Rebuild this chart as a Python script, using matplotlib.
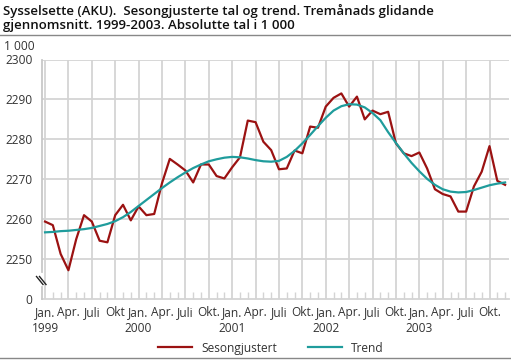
import matplotlib
matplotlib.use("Agg")
import matplotlib.pyplot as plt
from matplotlib.lines import Line2D
import numpy as np

# monthly values, Jan 1999 - Des 2003 (1 000 personar)
sesong = [2259.4, 2258.5, 2251.3, 2247.2, 2255.0, 2261.0, 2259.4, 2254.6, 2254.2, 2261.0,
          2263.6, 2259.7, 2263.2, 2261.0, 2261.3, 2269.0, 2275.1, 2273.7, 2272.2, 2269.2,
          2273.7, 2273.7, 2270.8, 2270.2, 2273.0, 2275.5, 2284.7, 2284.3, 2279.4, 2277.3,
          2272.5, 2272.7, 2277.2, 2276.5, 2283.2, 2282.9, 2288.2, 2290.4, 2291.5, 2288.2,
          2290.7, 2285.0, 2287.2, 2286.3, 2286.9, 2279.0, 2276.5, 2275.8, 2276.7, 2272.7,
          2267.5, 2266.3, 2265.7, 2261.9, 2261.9, 2268.2, 2271.9, 2278.3, 2269.6, 2268.6]
trend = [2256.7, 2256.8, 2257.0, 2257.1, 2257.3, 2257.5, 2257.8, 2258.3, 2258.8, 2259.5,
         2260.5, 2261.8, 2263.3, 2264.8, 2266.3, 2267.8, 2269.2, 2270.5, 2271.7, 2272.8,
         2273.7, 2274.5, 2275.0, 2275.4, 2275.6, 2275.5, 2275.2, 2274.8, 2274.5, 2274.4,
         2274.6, 2275.6, 2277.1, 2279.0, 2281.1, 2283.3, 2285.4, 2287.2, 2288.3, 2288.8,
         2288.7, 2288.0, 2286.6, 2284.8, 2281.8, 2279.1, 2276.5, 2274.1, 2272.0, 2270.1,
         2268.6, 2267.5, 2266.9, 2266.7, 2266.8, 2267.3, 2267.9, 2268.5, 2268.9, 2269.2]
years = ["1999", "2000", "2001", "2002", "2003"]
months_1999 = ["Jan.", "Apr.", "Juli", "Okt"]
months = ["Jan.", "Apr.", "Juli", "Okt."]
yticks = [2250, 2260, 2270, 2280, 2290, 2300]

W, H = 511, 361
plt.rcParams['font.family'] = ['Open Sans', 'DejaVu Sans']
fig = plt.figure(figsize=(W / 100, H / 100), dpi=100)

x0, x1, ytop, ybot = 42.3, 509, 59.5, 299
ax = fig.add_axes([x0 / W, 1 - ybot / H, (x1 - x0) / W, (ybot - ytop) / H])

red = "#9b1212"
teal = "#1f9c9c"
grid = "#d4d4d4"
txt = "#333333"

idx = np.arange(len(sesong))
ax.plot(idx, sesong, color=red, lw=1.6, label="Sesongjustert", zorder=3)
ax.plot(idx, trend, color=teal, lw=1.6, label="Trend", zorder=3)

ax.set_xlim(-0.35, 59.5)
ax.set_ylim(2240, 2300)

# x ticks: quarters with labels, months as small ticks
quarters = np.arange(0, 60, 3)
labels = []
for k, q in enumerate(quarters):
    yr = k // 4
    m = (months_1999 if yr == 0 else months)[k % 4]
    labels.append(m + "\n" + years[yr] if k % 4 == 0 else m + "\n")
ax.set_xticks(quarters)
ax.set_xticklabels(labels, fontsize=8.6, color=txt, linespacing=1.3)
ax.set_xticks(np.arange(0, 60), minor=True)
ax.tick_params(axis="x", which="major", length=0, pad=5)
ax.tick_params(axis="x", which="minor", direction="in", length=5, color=grid, width=1)
for q in quarters:
    ax.axvline(q, color=grid, lw=1.3, zorder=1)

ax.set_yticks([2240] + yticks)
ax.set_yticklabels(["0"] + [str(v) for v in yticks], fontsize=8.6, color=txt)
ax.tick_params(axis="y", length=0, pad=7)
for v in yticks:
    ax.axhline(v, color=grid, lw=1.3, zorder=1)

for s in ["top", "right", "left"]:
    ax.spines[s].set_visible(False)
ax.spines["bottom"].set_color(grid)
ax.spines["bottom"].set_linewidth(1.3)

# left spine with axis break
def fx(px):
    return px / W

def fy(py):
    return 1 - py / H

sp = "#c8c8c8"
fig.add_artist(Line2D([fx(x0), fx(x0)], [fy(ytop), fy(272)], color=sp, lw=1.3))
fig.add_artist(Line2D([fx(x0), fx(x0)], [fy(287), fy(ybot)], color=sp, lw=1.3))
for d in (0, 3):
    fig.add_artist(Line2D([fx(36.5 + d), fx(43 + d)], [fy(276.5), fy(284.5)],
                          color="#222222", lw=1.0))

fig.text(35 / W, fy(46), "1 000", fontsize=8.6, color=txt, ha="right", va="center")

fig.text(3 / W, fy(3.5), "Sysselsette (AKU).  Sesongjusterte tal og trend. Tremånads glidande\n"
         "gjennomsnitt. 1999-2003. Absolutte tal i 1 000",
         fontsize=9.5, fontweight="semibold", color="#111111", ha="left", va="top",
         linespacing=1.12)
fig.add_artist(Line2D([0, 1], [fy(35), fy(35)], color="#888888", lw=1.0))
fig.add_artist(Line2D([0, 1], [fy(357.5), fy(357.5)], color="#888888", lw=1.0))

ax.legend(loc="center", bbox_to_anchor=(0.49, -0.205), ncol=2, frameon=False,
          fontsize=8.6, handlelength=2.8, columnspacing=2.6, labelcolor=txt)

fig.savefig("out.png", dpi=100)
